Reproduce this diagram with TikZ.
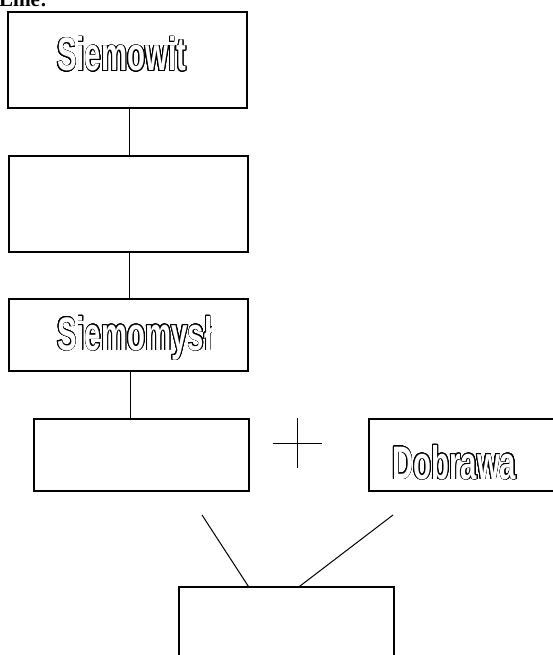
\documentclass[tikz,border=0pt]{standalone}
\usepackage{fontspec}
\usepackage{contour}
\contourlength{0.75pt}
\contournumber{24}
\newfontfamily\outfont[FakeStretch=0.625]{Liberation Sans}
\newfontfamily\serifb{Liberation Serif}
\newcommand\outtext[1]{\contour{black}{\textcolor{white}{#1}}}
\begin{document}
\begin{tikzpicture}[x=1pt,y=-1pt,
  box/.style={draw, line width=1.1pt, inner sep=0pt, rectangle},
  conn/.style={line width=1pt},
  nametext/.style={anchor=base west, inner sep=0pt, font=\fontsize{47}{50}\selectfont\outfont\bfseries}]
\useasboundingbox (0,0) rectangle (552,655);
% header fragment
\node[anchor=base west, inner sep=0pt, font=\fontsize{21}{22}\selectfont\serifb\bfseries] (hdr) at (-1,7) {Line:};
% boxes
\node[box, minimum width=239pt, minimum height=96pt] (b1) at (127.5,60) {};
\node[box, minimum width=239pt, minimum height=96pt] (b2) at (128.5,204) {};
\node[box, minimum width=239pt, minimum height=72pt] (b3) at (128.5,335) {};
\node[box, minimum width=215pt, minimum height=72pt] (b4) at (141.5,455) {};
\node[box, minimum width=187pt, minimum height=72pt] (b5) at (462.5,455) {};
\node[box, minimum width=215pt, minimum height=93pt] (b6) at (286.5,633.5) {};
% names
\node[nametext] (t1) at (57,71) {\outtext{Siemowit}};
\node[nametext] (t3) at (57,350) {\outtext{Siemomysł}};
\node[nametext] (t5) at (392,479) {\outtext{Dobrawa}};
% connectors
\draw[conn] ([xshift=1.5pt]b1.south) -- ([xshift=1.5pt]b1.south |- b2.north);
\draw[conn] ([xshift=1pt]b2.south) -- ([xshift=1pt]b2.south |- b3.north);
\draw[conn] ([xshift=1.5pt]b3.south) -- ([xshift=1.5pt]b3.south |- b4.north);
% plus sign
\coordinate (plus) at (297,443);
\draw[conn] ([xshift=-24pt]plus) -- ([xshift=25pt]plus);
\draw[conn] ([yshift=-25pt]plus) -- ([yshift=25pt]plus);
% lines to bottom box
\coordinate (la) at (202,515);
\coordinate (lb) at (393,515);
\draw[conn] (la) -- ([xshift=70pt]b6.north west);
\draw[conn] (lb) -- ([xshift=121pt]b6.north west);
\end{tikzpicture}
\end{document}
